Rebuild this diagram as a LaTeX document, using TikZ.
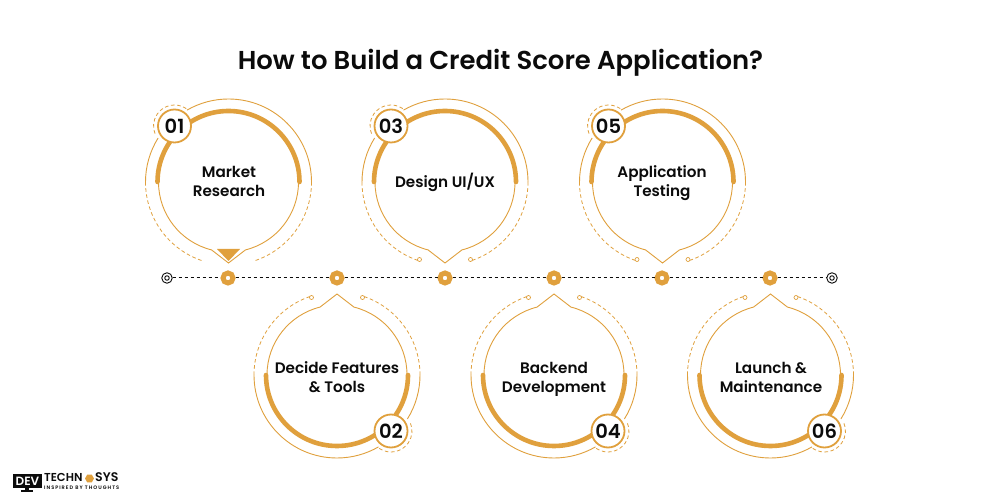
\documentclass[tikz,border=0pt]{standalone}
\usepackage{fontspec}
\setmainfont{Poppins}[BoldFont={Poppins SemiBold}]
\usetikzlibrary{shapes.geometric}
\definecolor{gold}{HTML}{E0A03D}
\definecolor{ink}{HTML}{0B0B0B}
\tikzset{
 x=1pt,y=1pt,
 thinline/.style={draw=gold,line width=.9pt},
 thickline/.style={draw=gold,line width=4.6pt,line cap=round},
 dashline/.style={draw=gold,line width=.8pt,dash pattern=on 3.6pt off 2.6pt},
 badge/.style={circle,draw=gold,line width=1.8pt,fill=white,minimum size=33pt,inner sep=0pt,text=ink,font=\bfseries\fontsize{19.5}{19.5}\selectfont},
 cardtext/.style={align=center,text=ink,font=\bfseries\fontsize{15.2}{19}\selectfont,inner sep=0pt},
 stopdot/.style={circle,draw=gold,line width=5pt,fill=white,minimum size=10pt,inner sep=0pt},
 railend/.style={circle,draw=ink,line width=.9pt,fill=white,minimum size=10.5pt,inner sep=0pt},
 capdot/.style={circle,draw=ink,line width=.9pt,minimum size=4.5pt,inner sep=0pt},
 endring/.style={circle,draw=gold,line width=.7pt,fill=white,minimum size=4pt,inner sep=0pt},
 rail/.style={draw=ink,line width=1pt,dash pattern=on 3.6pt off 2.4pt},
}
% #1 name, #2 cx, #3 cy (y up), #4 rotation, #5 number
\newcommand{\cardshape}[5]{%
 \begin{scope}[shift={(#2,#3)},rotate=#4]
  \draw[thickline] (180:71pt) arc[start angle=180,end angle=0,radius=71pt];
  \draw[thinline] (180:70pt) arc[start angle=180,end angle=256,radius=70pt] -- (0,-81) -- (284:70pt) arc[start angle=284,end angle=360,radius=70pt];
  \draw[thinline] (0:83pt) arc[start angle=0,end angle=120,radius=83pt];
  \draw[thinline] (148:83pt) arc[start angle=148,end angle=180,radius=83pt];
  \draw[dashline] (180:83pt) arc[start angle=180,end angle=252,radius=83pt];
  \draw[dashline] (0:83pt) arc[start angle=0,end angle=-72,radius=83pt];
  \coordinate (#1l) at (-25.5,-77.5);
  \coordinate (#1r) at (25.5,-77.5);
  \draw[dashline] (-54,56) ++(56:21pt) arc[start angle=56,end angle=204,radius=21pt];
  \node[badge] (#1b) at (-54,56) {#5};
 \end{scope}}
\begin{document}
\begin{tikzpicture}
\useasboundingbox (0,0) rectangle (1000,500);
\fill[white] (0,0) rectangle (1000,500);
\node[text=ink,font=\bfseries\fontsize{25.9}{30}\selectfont,inner sep=0pt] (title) at (500.5,437.5) {How to Build a Credit Score Application?};

% timeline
\node[railend] (s) at (167,222) {};
\node[capdot] (si) at (167,222) {};
\node[railend] (e) at (832,222) {};
\node[capdot] (ei) at (832,222) {};
\node[stopdot] (t1) at (228,222) {};
\node[stopdot] (t2) at (337,222) {};
\node[stopdot] (t3) at (445,222) {};
\node[stopdot] (t4) at (554,222) {};
\node[stopdot] (t5) at (662,222) {};
\node[stopdot] (t6) at (770,222) {};
\draw[rail] (s) -- (t1);
\draw[rail] (t1) -- (t2);
\draw[rail] (t2) -- (t3);
\draw[rail] (t3) -- (t4);
\draw[rail] (t4) -- (t5);
\draw[rail] (t5) -- (t6);
\draw[rail] (t6) -- (e);

% cards
\cardshape{a}{228.5}{318}{0}{01}
\cardshape{b}{337}{125}{180}{02}
\cardshape{c}{445}{318}{0}{03}
\cardshape{d}{554}{125}{180}{04}
\cardshape{f}{662.5}{318}{0}{05}
\cardshape{g}{770.5}{125}{180}{06}

\fill[gold] (217,251) -- (240,251) -- (228.5,239) -- cycle;
\foreach \n in {b,c,d,f,g}{
 \node[endring] (\n lr) at (\n l) {};
 \node[endring] (\n rr) at (\n r) {};
}

\node[cardtext] (la) at (229,318.3) {Market\\Research};
\node[cardtext] (lb) at (337,122.7) {Decide Features\\\& Tools};
\node[cardtext] (lc) at (445,318) {Design UI/UX};
\node[cardtext] (ld) at (554,121) {Backend\\Development};
\node[cardtext] (lf) at (662,316.5) {Application\\Testing};
\node[cardtext] (lg) at (771,122.5) {Launch \&\\Maintenance};

% logo
\fill[ink] (13,12) rectangle (42,26);
\fill[ink] (21,8) rectangle (33,9.5);
\fill[ink] (25,9.5) rectangle (29,12);
\node[text=white,font=\bfseries\fontsize{12}{12}\selectfont,inner sep=0pt] (ldev) at (27.5,18.5) {DEV};
\node[text=ink,font=\bfseries\fontsize{11.5}{11.5}\selectfont,inner sep=0pt,anchor=west] (ltech) at (44,23) {TECHN};
\node[regular polygon,regular polygon sides=6,fill=gold,minimum size=9pt,inner sep=0pt] (lhex) at (89.5,21.5) {};
\node[text=ink,font=\bfseries\fontsize{12.5}{12.5}\selectfont,inner sep=0pt,anchor=west] (lsys) at (95,23) {SYS};
\node[text=ink,font=\bfseries\fontsize{5}{5}\selectfont\addfontfeatures{LetterSpace=20},inner sep=0pt,anchor=west] (lins) at (44,12) {INSPIRED BY THOUGHTS};
\end{tikzpicture}
\end{document}
